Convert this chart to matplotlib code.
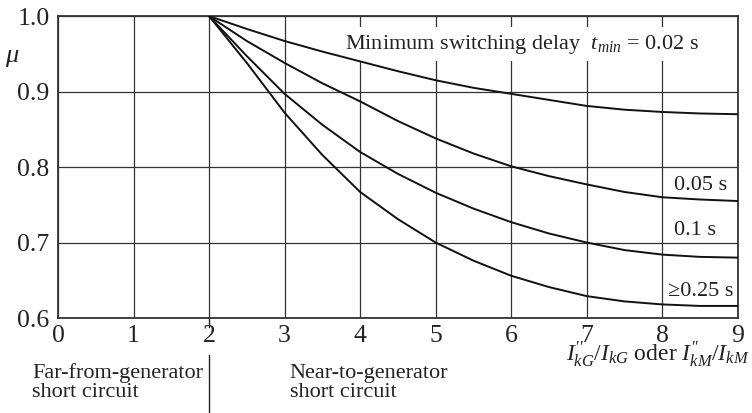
import numpy as np
import matplotlib
matplotlib.use("Agg")
import matplotlib.pyplot as plt

plt.rcParams["font.family"] = ["Liberation Serif", "DejaVu Serif"]
plt.rcParams["mathtext.fontset"] = "custom"
plt.rcParams["mathtext.rm"] = "Liberation Serif"
plt.rcParams["mathtext.it"] = "Liberation Serif:italic"

# current ratio I''k / Ik and the factor mu for each minimum switching delay
ratio = [2.0, 2.5, 3.0, 3.5, 4.0, 4.5, 5.0, 5.5, 6.0, 6.5, 7.0, 7.5, 8.0, 8.5, 9.0]
mu_002 = [1.000, 0.983, 0.967, 0.953, 0.940, 0.927, 0.915, 0.905, 0.897, 0.889, 0.881, 0.876, 0.873, 0.871, 0.870]
mu_005 = [1.000, 0.967, 0.938, 0.911, 0.887, 0.861, 0.838, 0.818, 0.801, 0.788, 0.777, 0.767, 0.760, 0.757, 0.755]
mu_010 = [1.000, 0.947, 0.897, 0.856, 0.820, 0.791, 0.766, 0.745, 0.727, 0.712, 0.700, 0.690, 0.684, 0.681, 0.680]
mu_025 = [1.000, 0.938, 0.872, 0.816, 0.767, 0.731, 0.700, 0.676, 0.656, 0.641, 0.629, 0.622, 0.618, 0.616, 0.616]
curve_labels = ["0.05 s", "0.1 s", "\u22650.25 s"]

xticks = list(range(0, 10))
yticks = [0.6, 0.7, 0.8, 0.9, 1.0]

fig = plt.figure(figsize=(7.52, 4.13), dpi=100)
ax = fig.add_axes([0.0771, 0.230, 0.904, 0.731])

for ys in (mu_002, mu_005, mu_010, mu_025):
    ax.plot(ratio, ys, color="#111111", lw=1.4, solid_capstyle="round", zorder=3)

ax.set_xlim(0, 9)
ax.set_ylim(0.6, 1.0)
ax.set_xticks(xticks)
ax.set_yticks(yticks)
ax.set_yticklabels([f"{v:.1f}" for v in yticks])
ax.tick_params(length=0, labelsize=18.5, colors="#222222")
ax.tick_params(axis="x", pad=5)
ax.tick_params(axis="y", pad=6)
ax.grid(True, color="#333333", lw=0.9)
ax.set_axisbelow(True)
for s in ax.spines.values():
    s.set_linewidth(1.3)
    s.set_color("#333333")

# boundary between far and near short circuits
ax.plot([2, 2], [0.6, 0.588], color="#222222", lw=1.0, clip_on=False)
ax.plot([2, 2], [0.551, 0.476], color="#222222", lw=1.0, clip_on=False)

ax.text(3.80, 0.957, r"Minimum switching delay  $t_{min}$ = 0.02 s", fontsize=16,
        va="baseline", ha="left", color="#222222", zorder=2.5,
        bbox=dict(facecolor="white", edgecolor="none", pad=4))
ax.text(8.15, 0.769, curve_labels[0], fontsize=16, va="baseline", color="#222222")
ax.text(8.15, 0.710, curve_labels[1], fontsize=16, va="baseline", color="#222222")
ax.text(8.07, 0.629, curve_labels[2], fontsize=16, va="baseline", color="#222222")

ax.text(-0.60, 0.945, r"$\mu$", fontsize=19, ha="center", va="center",
        color="#222222", clip_on=False)
ax.text(9.16, 0.543, r"$I^{\prime\prime}_{kG}/I_{kG}$ oder $I^{\prime\prime}_{kM}/I_{kM}$",
        fontsize=17, ha="right", va="baseline", color="#222222", clip_on=False)
ax.text(-0.344, 0.495, "Far-from-generator\nshort circuit", fontsize=16,
        ha="left", va="baseline", linespacing=1.05, color="#222222", clip_on=False)
ax.text(3.07, 0.495, "Near-to-generator\nshort circuit", fontsize=16,
        ha="left", va="baseline", linespacing=1.05, color="#222222", clip_on=False)

fig.savefig("out.png", dpi=100)
